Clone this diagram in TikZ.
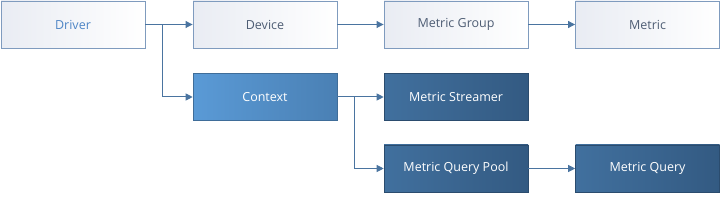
\documentclass[tikz,border=0pt]{standalone}
\usepackage{fontspec}
\setmainfont{Open Sans}
\usetikzlibrary{arrows.meta}
\definecolor{lineblue}{HTML}{4A74A0}
\definecolor{lightborder}{HTML}{7F9BBE}
\definecolor{lighttop}{HTML}{E9ECF3}
\definecolor{drivertext}{HTML}{4F86C6}
\definecolor{graytext}{HTML}{4E5D74}
\definecolor{ctxA}{HTML}{5A9AD6}
\definecolor{ctxB}{HTML}{4A80B4}
\definecolor{darkA}{HTML}{41709E}
\definecolor{darkB}{HTML}{335A82}
\begin{document}
\begin{tikzpicture}[x=1pt,y=-1pt,
  box/.style={minimum width=144pt,minimum height=47pt,inner sep=0pt,font=\fontsize{12.5pt}{14pt}\selectfont,shading angle=135},
  lightbox/.style={box,draw=lightborder,line width=0.9pt,left color=lighttop,right color=white,text=graytext},
  ctxbox/.style={box,draw=ctxB!85!black,line width=0.6pt,left color=ctxA,right color=ctxB,text=white},
  darkbox/.style={box,draw=darkB!85!black,line width=0.6pt,left color=darkA,right color=darkB,text=white},
  conn/.style={draw=lineblue,line width=1pt,-{Triangle[length=7pt,width=7pt]}},
  seg/.style={draw=lineblue,line width=1pt}]
\useasboundingbox (0,0) rectangle (725,200);
\node[lightbox,text=drivertext] (driver) at (73,24.5) {Driver};
\node[lightbox] (device) at (265,24.5) {Device};
\node[lightbox] (group) at (456,24.5) {Metric Group};
\node[lightbox] (metric) at (647.5,24.5) {Metric};
\node[ctxbox] (context) at (265,97) {Context};
\node[darkbox] (streamer) at (456,97) {Metric Streamer};
\node[darkbox] (pool) at (456,168.5) {Metric Query Pool};
\node[darkbox] (query) at (647.5,168.5) {Metric Query};
\coordinate (j1) at (162,24.5);
\coordinate (j2) at (354,97);
\draw[conn] (driver.east) -- (device.west);
\draw[conn] (j1) |- (context.west);
\draw[conn] (device.east) -- (group.west);
\draw[conn] (group.east) -- (metric.west);
\draw[conn] (context.east) -- (streamer.west);
\draw[conn] (j2) |- (pool.west);
\draw[conn] (pool.east) -- (query.west);
\end{tikzpicture}
\end{document}
